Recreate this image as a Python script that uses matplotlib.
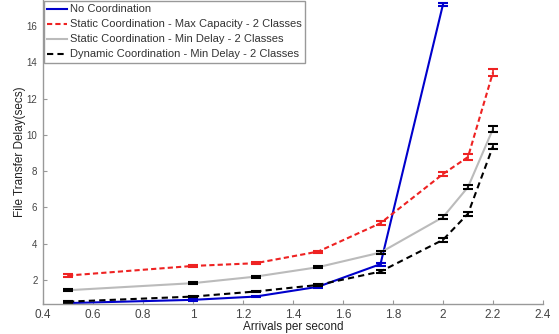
import matplotlib
matplotlib.use("Agg")
import matplotlib.pyplot as plt

plt.rcParams['font.family'] = ['Liberation Sans', 'DejaVu Sans']

x_all = [0.5, 1.0, 1.25, 1.5, 1.75, 2.0, 2.1, 2.2]
x_nocoord = [0.5, 1.0, 1.25, 1.5, 1.75, 2.0]

no_coord = [0.72, 0.90, 1.08, 1.62, 2.87, 17.2]
static_maxcap = [2.24, 2.77, 2.92, 3.56, 5.13, 7.84, 8.78, 13.45]
static_mindelay = [1.43, 1.82, 2.18, 2.70, 3.51, 5.46, 7.12, 10.33]
dynamic_mindelay = [0.80, 1.08, 1.36, 1.72, 2.46, 4.21, 5.65, 9.37]

err_nocoord = [0.05, 0.05, 0.05, 0.05, 0.08, 0.1]
err_maxcap = [0.06, 0.06, 0.06, 0.06, 0.1, 0.12, 0.14, 0.2]
err_mindelay = [0.06, 0.06, 0.06, 0.06, 0.08, 0.1, 0.12, 0.15]
err_dynamic = [0.05, 0.05, 0.05, 0.05, 0.08, 0.1, 0.12, 0.15]

labels = ["No Coordination",
          "Static Coordination - Max Capacity - 2 Classes",
          "Static Coordination - Min Delay - 2 Classes",
          "Dynamic Coordination - Min Delay - 2 Classes"]

fig = plt.figure(figsize=(5.59, 3.34), dpi=100)
ax = fig.add_axes([43/559, 30/334, 500/559, 304/334])

l1, = ax.plot(x_nocoord, no_coord, color='#0000cc', lw=1.5, ls='-')
ax.errorbar(x_nocoord, no_coord, yerr=err_nocoord, fmt='none', ecolor='#0000cc', elinewidth=1.2, capsize=3.5, capthick=1.5)
l2, = ax.plot(x_all, static_maxcap, color='#ee2222', lw=1.5, ls=(0, (2.5, 1.5)))
ax.errorbar(x_all, static_maxcap, yerr=err_maxcap, fmt='none', ecolor='#ee2222', elinewidth=1.2, capsize=3.5, capthick=1.5)
l3, = ax.plot(x_all, static_mindelay, color='#bbbbbb', lw=1.5, ls='-')
ax.errorbar(x_all, static_mindelay, yerr=err_mindelay, fmt='none', ecolor='black', elinewidth=1.2, capsize=3.5, capthick=1.5)
l4, = ax.plot(x_all, dynamic_mindelay, color='black', lw=1.5, ls=(0, (3, 2)))
ax.errorbar(x_all, dynamic_mindelay, yerr=err_dynamic, fmt='none', ecolor='black', elinewidth=1.2, capsize=3.5, capthick=1.5)

ax.set_xlim(0.4, 2.4)
ax.set_ylim(0.67, 17.44)
ax.set_xticks([0.4, 0.6, 0.8, 1, 1.2, 1.4, 1.6, 1.8, 2, 2.2, 2.4])
ax.set_xticklabels(['0.4', '0.6', '0.8', '1', '1.2', '1.4', '1.6', '1.8', '2', '2.2', '2.4'])
ax.set_yticks([2, 4, 6, 8, 10, 12, 14, 16])
for s in ['top', 'right']:
    ax.spines[s].set_visible(False)
for s in ['left', 'bottom']:
    ax.spines[s].set_color('#999999')
    ax.spines[s].set_linewidth(1.0)
ax.tick_params(direction='in', length=3, color='#999999', labelcolor='#444444', labelsize=8.5)
ax.tick_params(axis='y', labelsize=7, pad=4)

ax.set_xlabel('Arrivals per second', fontsize=8.5, color='#222222', labelpad=0)
ax.set_ylabel('File Transfer Delay(secs)', fontsize=8.5, color='#222222', labelpad=0.5)

leg = ax.legend([l1, l2, l3, l4], labels, loc='upper left', bbox_to_anchor=(0.0, 1.0),
                fontsize=8, handlelength=1.8, handletextpad=0.2, labelspacing=0.45,
                borderpad=0.3, borderaxespad=0.1, fancybox=False, framealpha=1)
leg.get_frame().set_edgecolor('#999999')
leg.get_frame().set_linewidth(1.0)
for t in leg.get_texts():
    t.set_color('#333333')

fig.savefig('out.png', dpi=100)
